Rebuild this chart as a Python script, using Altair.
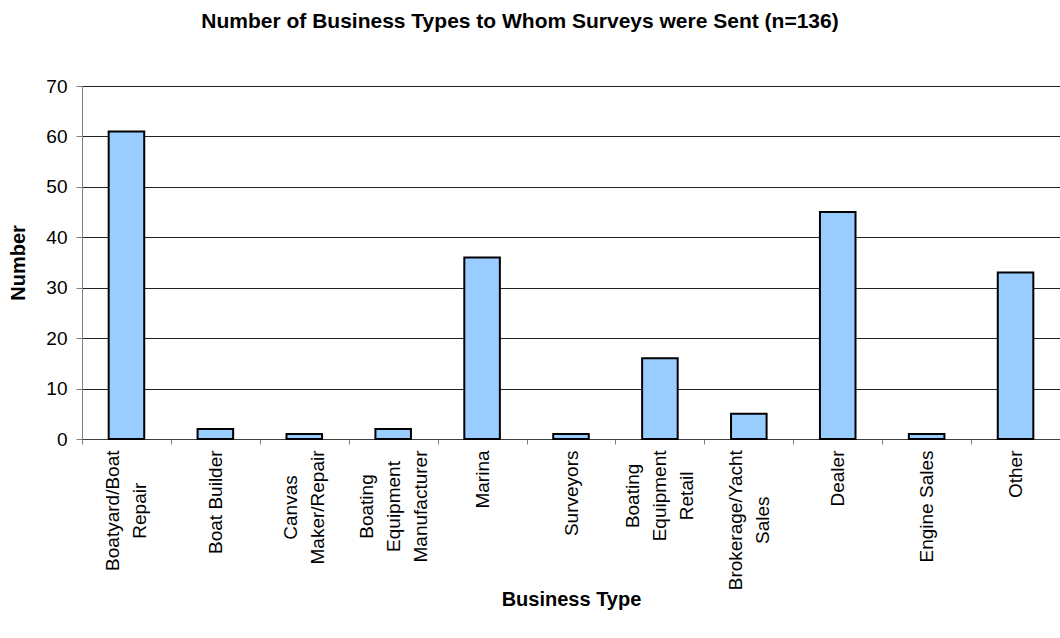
import altair as alt
import pandas as pd

categories = [
    "Boatyard/Boat Repair", "Boat Builder", "Canvas Maker/Repair",
    "Boating Equipment Manufacturer", "Marina", "Surveyors",
    "Boating Equipment Retail", "Brokerage/Yacht Sales", "Dealer",
    "Engine Sales", "Other",
]
values = [61, 2, 1, 2, 36, 1, 16, 5, 45, 1, 33]
label_lines = [
    ["Boatyard/Boat", "Repair"], ["Boat Builder"], ["Canvas", "Maker/Repair"],
    ["Boating", "Equipment", "Manufacturer"], ["Marina"], ["Surveyors"],
    ["Boating", "Equipment", "Retail"], ["Brokerage/Yacht", "Sales"], ["Dealer"],
    ["Engine Sales"], ["Other"],
]
y_ticks = [0, 10, 20, 30, 40, 50, 60, 70]

df = pd.DataFrame({"type": categories, "count": values})

FONT = "Liberation Sans"
LH = 27
LABEL_SIZE = 19
GAP = 6

# Arial / Liberation Sans advance widths (per 1000 em) for label glyphs
ADV = {
    "B": 667, "C": 722, "D": 722, "E": 667, "M": 833, "O": 778, "R": 722, "S": 667,
    "a": 556, "b": 556, "c": 500, "d": 556, "e": 556, "f": 278, "g": 556,
    "h": 556, "i": 222, "k": 500, "l": 222, "m": 833, "n": 556, "o": 556,
    "p": 556, "q": 556, "r": 333, "s": 500, "t": 278, "u": 556, "v": 500,
    "w": 722, "y": 500, "/": 278, " ": 278,
}


def text_width(s):
    return sum(ADV.get(ch, 556) for ch in s) * LABEL_SIZE / 1000.0


expr = "datum.value"
for cat, lines in reversed(list(zip(categories, label_lines))):
    arr = "[" + ",".join("'" + l + "'" for l in lines) + "]"
    expr = f"datum.value == '{cat}' ? {arr} : ({expr})"

# shift multi-line labels so each block is centred on its tick
conds = []
for n in (2, 3):
    cats = [c for c, l in zip(categories, label_lines) if len(l) == n]
    test = "indexof([" + ",".join("'" + c + "'" for c in cats) + "], datum.value) >= 0"
    conds.append({"test": test, "value": -(n - 1) * LH / 2})
label_offset = {"condition": conds, "value": 0}

# centre each line within its block: padding to the block's middle
pad_conds = []
for cat, lines in zip(categories, label_lines):
    w = max(text_width(l) for l in lines)
    pad_conds.append({"test": f"datum.value == '{cat}'", "value": round(GAP + w / 2, 1)})
label_padding = {"condition": pad_conds, "value": GAP}

chart = alt.Chart(df).mark_bar(
    fill="#99CCFF", stroke="#000000", strokeWidth=2,
    width=alt.RelativeBandSize(0.4),
).encode(
    x=alt.X("type:N", sort=categories,
            scale=alt.Scale(paddingInner=0, paddingOuter=0),
            axis=alt.Axis(
                title="Business Type", labelAngle=-90, labelAlign="center",
                labelBaseline="middle", labelExpr=expr, labelFont=FONT,
                labelFontSize=LABEL_SIZE, labelLineHeight=LH,
                labelOffset=label_offset, labelPadding=label_padding,
                labelColor="#000000", tickBand="extent", tickSize=5,
                tickColor="#808080", domainColor="#404040",
                titleFont=FONT, titleFontSize=20, titleFontWeight="bold",
                titleColor="#000000", titleY=166, titleBaseline="alphabetic",
                labelLimit=400,
            )),
    y=alt.Y("count:Q",
            scale=alt.Scale(domain=[0, 70], nice=False),
            axis=alt.Axis(
                title="Number", values=y_ticks, labelFont=FONT,
                labelFontSize=19, labelColor="#000000", labelPadding=9,
                tickSize=6, tickColor="#808080", domainColor="#808080",
                grid=True, gridColor="#222222", gridWidth=1,
                titleFont=FONT, titleFontSize=20, titleFontWeight="bold",
                titleColor="#000000", titleX=-64, titleBaseline="middle",
            )),
).properties(
    width=978, height=353,
    autosize=alt.AutoSizeParams(type="none"),
    padding={"left": 82, "top": 86, "right": 0, "bottom": 199},
    title=alt.TitleParams(
        "Number of Business Types to Whom Surveys were Sent (n=136)",
        font=FONT, fontSize=21, fontWeight="bold", color="#000000",
        anchor="middle", frame="group", dx=-51, offset=45,
    ),
).configure_view(stroke="transparent")

chart.save("out.html", embed_options={"renderer": "svg", "actions": False})
